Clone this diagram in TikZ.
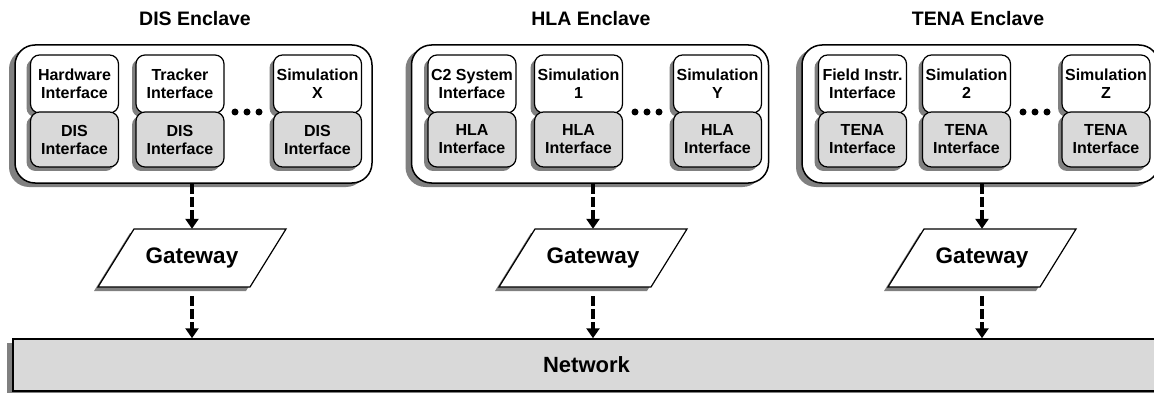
\documentclass[tikz,border=0pt]{standalone}
\usepackage{fontspec}
\setmainfont{Liberation Sans}
\usetikzlibrary{shadows,arrows.meta}
\definecolor{panelgray}{HTML}{D9D9D9}
\definecolor{shadowgray}{HTML}{808080}
\begin{document}
\begin{tikzpicture}[x=1pt,y=1pt,
  boxshadow/.style={drop shadow={shadow xshift=-4pt,shadow yshift=-4pt,fill=shadowgray,opacity=1}},
  bigshadow/.style={drop shadow={shadow xshift=-6pt,shadow yshift=-4pt,fill=shadowgray,opacity=1}},
  enclave/.style={draw, line width=1.5pt, rounded corners=20pt, fill=white,
    minimum width=357pt, minimum height=138pt, inner sep=0pt, bigshadow},
  appbox/.style={draw, line width=1.2pt, rounded corners=9pt, fill=white,
    minimum width=88pt, minimum height=58pt, inner sep=0pt, align=center,
    font=\bfseries\fontsize{16}{18}\selectfont, boxshadow},
  ifbox/.style={appbox, fill=panelgray, minimum height=55pt},
  title/.style={font=\bfseries\fontsize{19.5}{22}\selectfont},
  gwlabel/.style={font=\bfseries\fontsize{22.5}{26}\selectfont,
    minimum width=152pt, minimum height=58pt, inner sep=0pt},
  gwshape/.style={draw, line width=1.2pt, fill=white, boxshadow},
  link/.style={line width=4.5pt, dash pattern=on 10pt off 3pt,
    -{Triangle[width=13pt,length=10pt]}},
  net/.style={draw, line width=1.5pt, fill=panelgray, minimum width=1147pt,
    minimum height=52pt, inner sep=0pt, font=\bfseries\fontsize{22}{25}\selectfont, bigshadow},
  dot/.style={fill=black}
]
\useasboundingbox (0,0) rectangle (1154,-393);

% enclave titles
\node[title] (t1) at (195,-19) {DIS Enclave};
\node[title] (t2) at (591,-19) {HLA Enclave};
\node[title] (t3) at (978,-19) {TENA Enclave};

% enclave frames
\node[enclave] (dis)  at (193.5,-114) {};
\node[enclave] (hla)  at (590,-114) {};
\node[enclave] (tena) at (980.5,-114) {};

% DIS enclave members
\node[appbox] (d1a) at (74.5,-84) {Hardware\\Interface};
\node[ifbox]  (d1b) at (74.5,-139.5) {DIS\\Interface};
\node[appbox] (d2a) at (180,-84) {Tracker\\Interface};
\node[ifbox]  (d2b) at (180,-139.5) {DIS\\Interface};
\node[appbox] (d3a) at (317.5,-84) {Simulation\\X};
\node[ifbox]  (d3b) at (317.5,-139.5) {DIS\\Interface};
\foreach \x in {235,247,259} \fill[dot] (\x,-112) circle (3.5);

% HLA enclave members
\node[appbox] (h1a) at (472,-84) {C2 System\\Interface};
\node[ifbox]  (h1b) at (472,-139.5) {HLA\\Interface};
\node[appbox] (h2a) at (578.5,-84) {Simulation\\1};
\node[ifbox]  (h2b) at (578.5,-139.5) {HLA\\Interface};
\node[appbox] (h3a) at (717.5,-84) {Simulation\\Y};
\node[ifbox]  (h3b) at (717.5,-139.5) {HLA\\Interface};
\foreach \x in {635,647,659} \fill[dot] (\x,-112) circle (3.5);

% TENA enclave members
\node[appbox] (e1a) at (862.5,-84) {Field Instr.\\Interface};
\node[ifbox]  (e1b) at (862.5,-139.5) {TENA\\Interface};
\node[appbox] (e2a) at (966.5,-84) {Simulation\\2};
\node[ifbox]  (e2b) at (966.5,-139.5) {TENA\\Interface};
\node[appbox] (e3a) at (1106,-84) {Simulation\\Z};
\node[ifbox]  (e3b) at (1106,-139.5) {TENA\\Interface};
\foreach \x in {1023,1035,1047} \fill[dot] (\x,-112) circle (3.5);

% gateways (parallelograms)
\foreach \n/\x in {gw1/192,gw2/593,gw3/982}{
  \draw[gwshape, shift={(\x,-258)}] (-94,-29) -- (-58,29) -- (94,29) -- (58,-29) -- cycle;
  \node[gwlabel] (\n) at (\x,-258) {Gateway};
}

% network
\node[net] (net) at (586.5,-365) {Network};

% links
\draw[link] (dis.south -| gw1.north) -- (gw1.north);
\draw[link] (hla.south -| gw2.north) -- (gw2.north);
\draw[link] (tena.south -| gw3.north) -- (gw3.north);
\draw[link, shorten <=9pt] (gw1.south) -- (gw1.south |- net.north);
\draw[link, shorten <=9pt] (gw2.south) -- (gw2.south |- net.north);
\draw[link, shorten <=9pt] (gw3.south) -- (gw3.south |- net.north);
\end{tikzpicture}
\end{document}
